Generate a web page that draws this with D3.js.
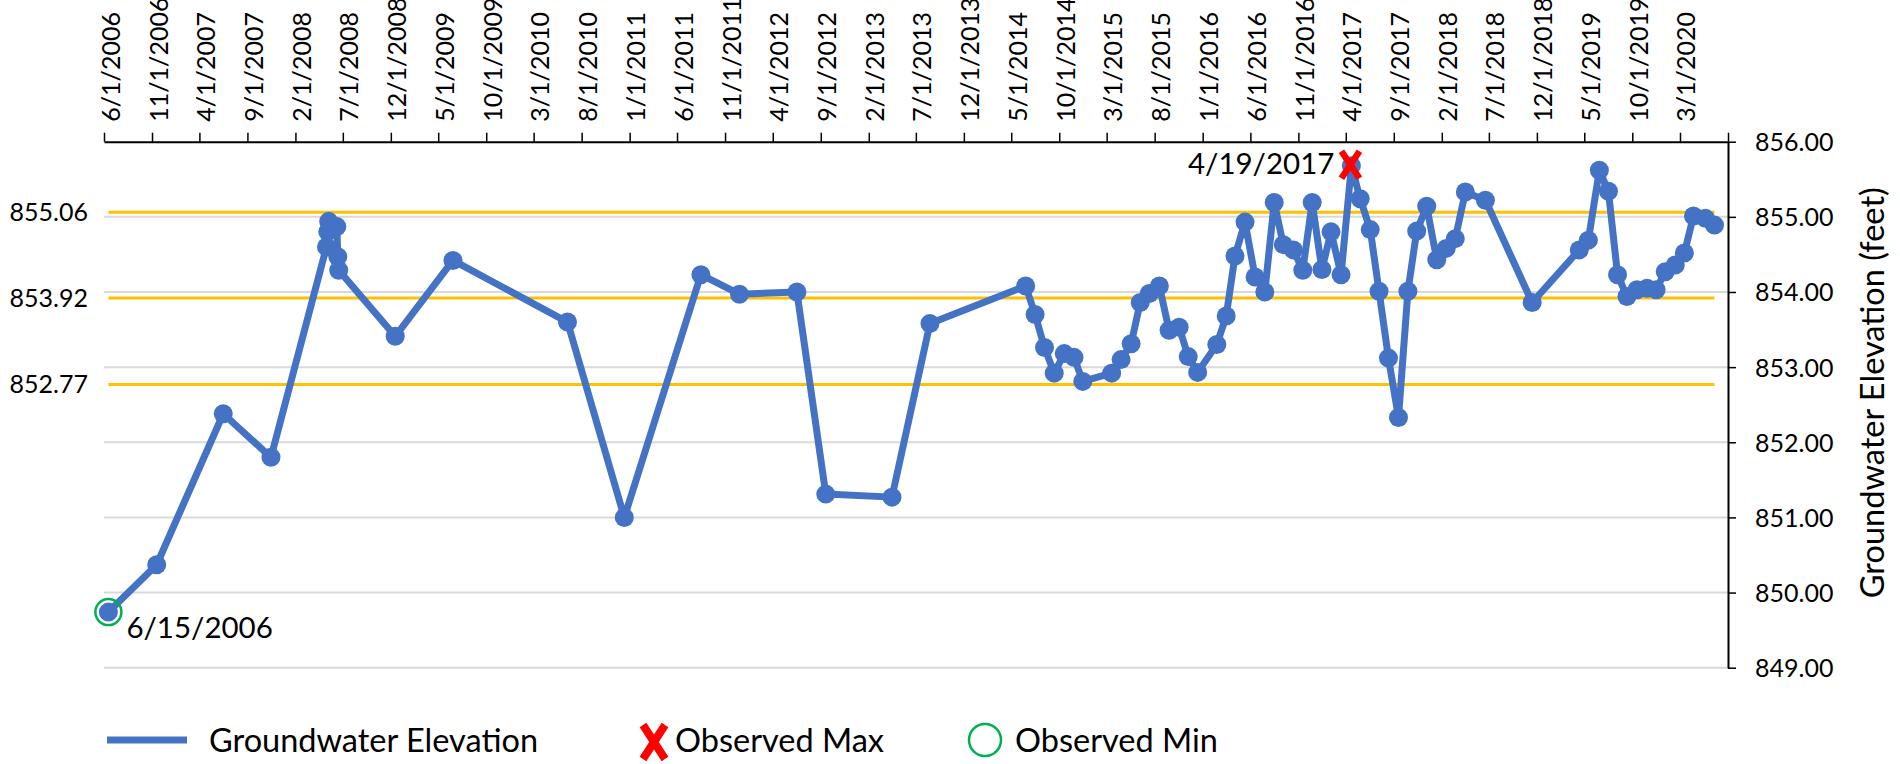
<!DOCTYPE html>
<html>
<head>
<meta charset="utf-8">
<script src="https://cdn.jsdelivr.net/npm/d3@7"></script>
<style>
  body { margin: 0; background: #fff; }
  svg text { font-family: Lato, sans-serif; fill: #000; }
</style>
</head>
<body>
<svg id="chart" width="1900" height="764"></svg>
<script>
// measured groundwater elevations (feet)
var sampleDates = [
  '6/15/2006', '11/16/2006', '6/16/2007', '11/15/2007',
  '5/10/2008', '5/14/2008', '5/17/2008', '6/12/2008', '6/15/2008', '6/18/2008',
  '12/15/2008', '6/17/2009', '6/17/2010', '12/15/2010', '8/16/2011', '12/17/2011',
  '6/17/2012', '9/17/2012', '4/16/2013', '8/15/2013',
  '6/16/2014', '7/16/2014', '8/15/2014', '9/15/2014', '10/17/2014', '11/17/2014', '12/15/2014',
  '3/17/2015', '4/16/2015', '5/18/2015', '6/16/2015', '7/15/2015', '8/16/2015', '9/16/2015',
  '10/18/2015', '11/16/2015', '12/16/2015',
  '2/15/2016', '3/16/2016', '4/13/2016', '5/15/2016', '6/16/2016', '7/17/2016', '8/16/2016',
  '9/14/2016', '10/16/2016', '11/15/2016', '12/15/2016',
  '1/15/2017', '2/13/2017', '3/17/2017', '4/19/2017', '5/17/2017', '6/18/2017', '7/16/2017',
  '8/15/2017', '9/16/2017', '10/16/2017', '11/13/2017', '12/15/2017',
  '1/16/2018', '2/15/2018', '3/16/2018', '4/17/2018', '6/20/2018', '11/16/2018',
  '4/15/2019', '5/14/2019', '6/18/2019', '7/17/2019', '8/15/2019', '9/14/2019', '10/16/2019',
  '11/17/2019', '12/16/2019',
  '1/14/2020', '2/15/2020', '3/15/2020', '4/13/2020', '5/21/2020', '6/19/2020'
];
var elevations = [
  849.74, 850.37, 852.38, 851.80,
  854.60, 854.80, 854.94, 854.87, 854.47, 854.29,
  853.41, 854.42, 853.60, 851.00, 854.23, 853.97,
  854.00, 851.31, 851.27, 853.58,
  854.08, 853.70, 853.26, 852.92, 853.18, 853.13, 852.81,
  852.92, 853.10, 853.31, 853.86, 853.98, 854.08, 853.49,
  853.53, 853.14, 852.93,
  853.30, 853.68, 854.48, 854.93, 854.20, 854.00, 855.19,
  854.63, 854.56, 854.29, 855.19,
  854.30, 854.80, 854.23, 855.68, 855.24, 854.83, 854.01,
  853.12, 852.33, 854.01, 854.81, 855.14,
  854.43, 854.58, 854.71, 855.33, 855.22, 853.86,
  854.56, 854.69, 855.62, 855.34, 854.23, 853.94, 854.03,
  854.05, 854.03,
  854.27, 854.36, 854.52, 855.01, 854.98, 854.89
];
// horizontal reference levels and their left-hand labels
var limitValues = [855.06, 853.92, 852.77];
var limitLabels = ['855.06', '853.92', '852.77'];
// axis settings
var elevationTicks = [849, 850, 851, 852, 853, 854, 855, 856];
var dateRange = ['6/1/2006', '8/1/2020'];
var legendLabels = ['Groundwater Elevation', 'Observed Max', 'Observed Min'];
var axisTitle = 'Groundwater Elevation (feet)';

(function() {
  var parseDate = d3.timeParse('%m/%d/%Y');
  var formatDate = function(d) {
    return (d.getMonth() + 1) + '/' + d.getDate() + '/' + d.getFullYear();
  };

  var data = sampleDates.map(function(s, i) {
    return { date: parseDate(s), value: elevations[i] };
  });

  var pLeft = 104, pRight = 1728, pTop = 141.7, pBottom = 667.7;
  var blue = '#4472C4', gold = '#FFC000', red = '#FF0000', green = '#00B050';

  var x = d3.scaleTime().domain(dateRange.map(parseDate)).range([pLeft, pRight]);
  var y = d3.scaleLinear().domain([849, 856]).range([pBottom, pTop]);

  var svg = d3.select('#chart');
  svg.append('rect').attr('width', 1900).attr('height', 764).attr('fill', '#fff');

  // gridlines
  svg.append('g').selectAll('line')
    .data(elevationTicks.slice(0, -1))
    .enter().append('line')
    .attr('x1', pLeft).attr('x2', pRight)
    .attr('y1', function(d) { return y(d); })
    .attr('y2', function(d) { return y(d); })
    .attr('stroke', '#d9d9d9').attr('stroke-width', 2);

  // reference levels span the period of record
  var first = data[0].date, last = data[data.length - 1].date;
  svg.append('g').selectAll('line')
    .data(limitValues)
    .enter().append('line')
    .attr('x1', x(first)).attr('x2', x(last))
    .attr('y1', function(d) { return y(d); })
    .attr('y2', function(d) { return y(d); })
    .attr('stroke', gold).attr('stroke-width', 3);

  svg.append('g').selectAll('text')
    .data(limitValues)
    .enter().append('text')
    .attr('x', 88)
    .attr('y', function(d) { return y(d); })
    .attr('dy', '0.36em')
    .attr('text-anchor', 'end')
    .attr('font-size', 25)
    .text(function(d, i) { return limitLabels[i]; });

  // top date axis, ticks every 5 months
  var tickDates = d3.timeMonth.range(x.domain()[0], d3.timeDay.offset(x.domain()[1], 1))
    .filter(function(d, i) { return i % 5 === 0; });
  var xAxis = svg.append('g')
    .attr('transform', 'translate(0,' + pTop + ')')
    .call(d3.axisTop(x).tickValues(tickDates).tickSize(9).tickSizeOuter(0)
      .tickFormat(function(d) { return +d === +x.domain()[1] ? '' : formatDate(d); }));
  xAxis.attr('font-family', null).attr('font-size', null);
  xAxis.select('.domain').attr('stroke', '#000').attr('stroke-width', 2);
  xAxis.selectAll('.tick line').attr('stroke', '#000').attr('stroke-width', 1.5);
  xAxis.selectAll('.tick text')
    .attr('transform', 'rotate(-90)')
    .attr('x', 20).attr('y', 15).attr('dy', 0)
    .attr('text-anchor', 'start')
    .attr('font-size', 25);

  // right elevation axis
  var yAxis = svg.append('g')
    .attr('transform', 'translate(' + pRight + ',0)')
    .call(d3.axisRight(y).tickValues(elevationTicks).tickSize(8).tickSizeOuter(0)
      .tickPadding(19).tickFormat(d3.format('.2f')));
  yAxis.attr('font-family', null).attr('font-size', null);
  yAxis.select('.domain').attr('stroke', '#000').attr('stroke-width', 2);
  yAxis.selectAll('.tick line').attr('stroke', '#000').attr('stroke-width', 1.5);
  yAxis.selectAll('.tick text').attr('font-size', 25).attr('dy', '0.36em');

  svg.append('text')
    .attr('transform', 'translate(1872,' + ((pTop + pBottom) / 2 - 12) + ')rotate(-90)')
    .attr('text-anchor', 'middle')
    .attr('dy', '0.36em')
    .attr('font-size', 32.5)
    .text(axisTitle);

  // series
  var line = d3.line()
    .x(function(d) { return x(d.date); })
    .y(function(d) { return y(d.value); });
  svg.append('path').datum(data)
    .attr('d', line)
    .attr('fill', 'none')
    .attr('stroke', blue).attr('stroke-width', 7)
    .attr('stroke-linejoin', 'round');
  svg.append('g').selectAll('circle')
    .data(data)
    .enter().append('circle')
    .attr('cx', function(d) { return x(d.date); })
    .attr('cy', function(d) { return y(d.value); })
    .attr('r', 9.5)
    .attr('fill', blue);

  // observed max / min
  var maxPt = d3.greatest(data, function(d) { return d.value; });
  var minPt = d3.least(data, function(d) { return d.value; });

  var xMark = function(g, cx, cy, hw, hh, sw) {
    g.append('path')
      .attr('d', 'M' + (cx - hw) + ',' + (cy - hh) + 'L' + (cx + hw) + ',' + (cy + hh) +
        'M' + (cx + hw) + ',' + (cy - hh) + 'L' + (cx - hw) + ',' + (cy + hh))
      .attr('stroke', red).attr('stroke-width', sw).attr('fill', 'none');
  };

  xMark(svg, x(maxPt.date) - 1, y(maxPt.value) - 1, 9, 13.5, 6.5);
  svg.append('text')
    .attr('x', x(maxPt.date) - 17).attr('y', y(maxPt.value) + 8)
    .attr('text-anchor', 'end')
    .attr('font-size', 29.5)
    .text(formatDate(maxPt.date));

  svg.append('circle')
    .attr('cx', x(minPt.date)).attr('cy', y(minPt.value))
    .attr('r', 13)
    .attr('fill', 'none').attr('stroke', green).attr('stroke-width', 2.5);
  svg.append('text')
    .attr('x', x(minPt.date) + 18).attr('y', y(minPt.value) + 26)
    .attr('font-size', 29.5)
    .text(formatDate(minPt.date));

  // legend
  var legend = svg.append('g').attr('transform', 'translate(0,740)');
  legend.append('line')
    .attr('x1', 107).attr('x2', 187)
    .attr('stroke', blue).attr('stroke-width', 7);
  legend.append('text').attr('x', 209).attr('dy', '0.36em').attr('font-size', 32.5).text(legendLabels[0]);
  xMark(legend, 654, 2, 11, 17, 8);
  legend.append('text').attr('x', 675).attr('dy', '0.36em').attr('font-size', 32.5).text(legendLabels[1]);
  legend.append('circle').attr('cx', 985).attr('cy', 0).attr('r', 16)
    .attr('fill', 'none').attr('stroke', green).attr('stroke-width', 2.5);
  legend.append('text').attr('x', 1015).attr('dy', '0.36em').attr('font-size', 32.5).text(legendLabels[2]);
})();
</script>
</body>
</html>
